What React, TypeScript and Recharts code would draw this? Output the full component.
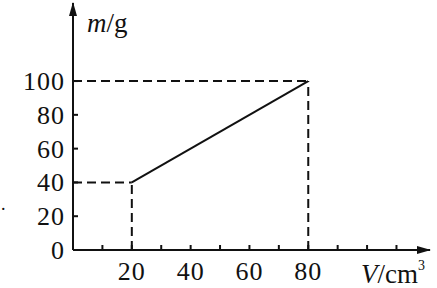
import React from "react";
import { LineChart, Line, XAxis, YAxis, ReferenceLine } from "recharts";

// graph data: m against V
const volumes = [20, 80];
const masses = [40, 100];
const xTicks = [0, 10, 20, 30, 40, 50, 60, 70, 80, 90, 100, 110];
const xLabels = [20, 40, 60, 80];
const yTicks = [0, 20, 40, 60, 80, 100];

const data = volumes.map((v, i) => ({ v, m: masses[i] }));

const FONT = "Liberation Serif, Times New Roman, serif";
const INK = "#111";
const DASH = "9 5";

const AXIS_X = 73;
const AXIS_Y = 250;

function XTick(props: any) {
  const { x, payload } = props;
  const show = xLabels.includes(payload.value);
  return (
    <g>
      {payload.value !== 0 && (
        <line x1={x} x2={x} y1={AXIS_Y} y2={AXIS_Y - 5} stroke={INK} strokeWidth={2} />
      )}
      {show && (
        <text x={x} y={AXIS_Y + 30} textAnchor="middle" fontSize={26} letterSpacing={1} fontFamily={FONT} fill={INK}>
          {payload.value}
        </text>
      )}
    </g>
  );
}

function YTick(props: any) {
  const { y, payload } = props;
  return (
    <g>
      {payload.value !== 0 && (
        <line x1={AXIS_X} x2={AXIS_X + 5} y1={y} y2={y} stroke={INK} strokeWidth={2} />
      )}
      <text x={AXIS_X - 8} y={y + 9} textAnchor="end" fontSize={26} letterSpacing={1} fontFamily={FONT} fill={INK}>
        {payload.value}
      </text>
    </g>
  );
}

export default function App() {
  return (
    <div style={{ position: "absolute", left: 0, top: 0, background: "#fff" }}>
      <LineChart
        width={437}
        height={288}
        data={data}
        margin={{ top: 3, right: 7, left: 0, bottom: 0 }}
      >
        <XAxis
          dataKey="v"
          type="number"
          domain={[0, 121.4]}
          ticks={xTicks}
          height={38}
          tickLine={false}
          tick={<XTick />}
          axisLine={{ stroke: INK, strokeWidth: 2 }}
          interval={0}
        />
        <YAxis
          type="number"
          domain={[0, 146.2]}
          ticks={yTicks}
          width={73}
          tickLine={false}
          tick={<YTick />}
          axisLine={{ stroke: INK, strokeWidth: 2 }}
          interval={0}
        />
        <ReferenceLine segment={[{ x: 0, y: 40 }, { x: 20, y: 40 }]} stroke={INK} strokeWidth={2} strokeDasharray={DASH} />
        <ReferenceLine segment={[{ x: 20, y: 0 }, { x: 20, y: 40 }]} stroke={INK} strokeWidth={2} strokeDasharray={DASH} />
        <ReferenceLine segment={[{ x: 0, y: 100 }, { x: 80, y: 100 }]} stroke={INK} strokeWidth={2} strokeDasharray={DASH} />
        <ReferenceLine segment={[{ x: 80, y: 0 }, { x: 80, y: 100 }]} stroke={INK} strokeWidth={2} strokeDasharray={DASH} />
        <Line
          dataKey="m"
          stroke={INK}
          strokeWidth={2}
          dot={false}
          isAnimationActive={false}
        />
        {/* axis arrowheads */}
        <path d={`M${AXIS_X},2 L${AXIS_X - 4},16 L${AXIS_X + 4},16 Z`} fill={INK} />
        <path d={`M431,${AXIS_Y} L417,${AXIS_Y - 4} L417,${AXIS_Y + 4} Z`} fill={INK} />
        <text x={87} y={32} fontSize={27} fontFamily={FONT} fill={INK}>
          <tspan fontStyle="italic">m</tspan>
          <tspan>/g</tspan>
        </text>
        <text x={361} y={283} fontSize={27} fontFamily={FONT} fill={INK}>
          <tspan fontStyle="italic">V</tspan>
          <tspan>/cm</tspan>
          <tspan fontSize={14} dy={-13}>3</tspan>
        </text>
        <text x={1} y={210} fontSize={18} fontFamily={FONT} fill={INK}>.</text>
      </LineChart>
    </div>
  );
}
